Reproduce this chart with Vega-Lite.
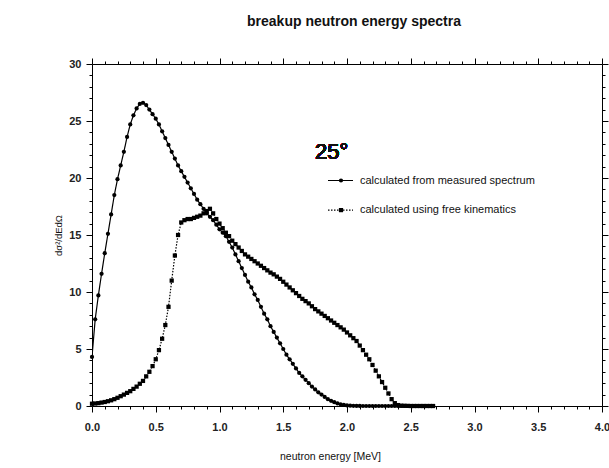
{
  "$schema": "https://vega.github.io/schema/vega-lite/v6.json",
  "width": 510,
  "height": 342,
  "autosize": {"type": "none"},
  "padding": {"left": 92, "top": 64, "right": 7, "bottom": 62},
  "background": "white",
  "config": {"view": {"stroke": null}, "font": "Liberation Sans"},
  "title": {"text": "breakup neutron energy spectra", "fontSize": 14, "fontWeight": "bold", "font": "Liberation Sans", "color": "#111111", "anchor": "middle", "dx": 7, "offset": 29},
  "datasets": {
    "spectra": [
      {"series":"measured","energy":0.000,"value":4.3},{"series":"measured","energy":0.025,"value":7.6},{"series":"measured","energy":0.050,"value":9.7},{"series":"measured","energy":0.075,"value":11.6},{"series":"measured","energy":0.100,"value":13.4},{"series":"measured","energy":0.125,"value":15.1},{"series":"measured","energy":0.150,"value":16.8},{"series":"measured","energy":0.175,"value":18.5},{"series":"measured","energy":0.200,"value":19.9},{"series":"measured","energy":0.225,"value":21.1},{"series":"measured","energy":0.250,"value":22.3},{"series":"measured","energy":0.275,"value":23.6},{"series":"measured","energy":0.300,"value":24.7},{"series":"measured","energy":0.325,"value":25.5},{"series":"measured","energy":0.350,"value":26.1},{"series":"measured","energy":0.375,"value":26.5},{"series":"measured","energy":0.400,"value":26.6},{"series":"measured","energy":0.425,"value":26.4},{"series":"measured","energy":0.450,"value":26.0},{"series":"measured","energy":0.475,"value":25.6},{"series":"measured","energy":0.500,"value":25.2},{"series":"measured","energy":0.525,"value":24.7},{"series":"measured","energy":0.550,"value":24.1},{"series":"measured","energy":0.575,"value":23.5},{"series":"measured","energy":0.600,"value":22.9},{"series":"measured","energy":0.625,"value":22.3},{"series":"measured","energy":0.650,"value":21.7},{"series":"measured","energy":0.675,"value":21.1},{"series":"measured","energy":0.700,"value":20.6},{"series":"measured","energy":0.725,"value":20.1},{"series":"measured","energy":0.750,"value":19.6},{"series":"measured","energy":0.775,"value":19.1},{"series":"measured","energy":0.800,"value":18.6},{"series":"measured","energy":0.825,"value":18.1},{"series":"measured","energy":0.850,"value":17.7},{"series":"measured","energy":0.875,"value":17.3},{"series":"measured","energy":0.900,"value":16.9},{"series":"measured","energy":0.925,"value":16.6},{"series":"measured","energy":0.950,"value":16.3},{"series":"measured","energy":0.975,"value":15.9},{"series":"measured","energy":1.000,"value":15.5},{"series":"measured","energy":1.025,"value":15.2},{"series":"measured","energy":1.050,"value":14.9},{"series":"measured","energy":1.075,"value":14.4},{"series":"measured","energy":1.100,"value":13.9},{"series":"measured","energy":1.125,"value":13.3},{"series":"measured","energy":1.150,"value":12.7},{"series":"measured","energy":1.175,"value":12.1},{"series":"measured","energy":1.200,"value":11.5},{"series":"measured","energy":1.225,"value":10.9},{"series":"measured","energy":1.250,"value":10.4},{"series":"measured","energy":1.275,"value":9.8},{"series":"measured","energy":1.300,"value":9.3},{"series":"measured","energy":1.325,"value":8.7},{"series":"measured","energy":1.350,"value":8.1},{"series":"measured","energy":1.375,"value":7.6},{"series":"measured","energy":1.400,"value":7.0},{"series":"measured","energy":1.425,"value":6.5},{"series":"measured","energy":1.450,"value":6.0},{"series":"measured","energy":1.475,"value":5.5},{"series":"measured","energy":1.500,"value":5.0},{"series":"measured","energy":1.525,"value":4.5},{"series":"measured","energy":1.550,"value":4.1},{"series":"measured","energy":1.575,"value":3.7},{"series":"measured","energy":1.600,"value":3.3},{"series":"measured","energy":1.625,"value":2.9},{"series":"measured","energy":1.650,"value":2.6},{"series":"measured","energy":1.675,"value":2.3},{"series":"measured","energy":1.700,"value":2.0},{"series":"measured","energy":1.725,"value":1.7},{"series":"measured","energy":1.750,"value":1.45},{"series":"measured","energy":1.775,"value":1.2},{"series":"measured","energy":1.800,"value":1.0},{"series":"measured","energy":1.825,"value":0.8},{"series":"measured","energy":1.850,"value":0.6},{"series":"measured","energy":1.875,"value":0.45},{"series":"measured","energy":1.900,"value":0.33},{"series":"measured","energy":1.925,"value":0.23},{"series":"measured","energy":1.950,"value":0.15},{"series":"measured","energy":1.975,"value":0.09},{"series":"measured","energy":2.000,"value":0.05},{"series":"measured","energy":2.025,"value":0.03},{"series":"measured","energy":2.050,"value":0.02},{"series":"measured","energy":2.075,"value":0.01},{"series":"measured","energy":2.100,"value":0.01},{"series":"measured","energy":2.125,"value":0.0},{"series":"measured","energy":2.150,"value":0.0},{"series":"measured","energy":2.175,"value":0.0},{"series":"measured","energy":2.200,"value":0.0},{"series":"measured","energy":2.225,"value":0.0},{"series":"measured","energy":2.250,"value":0.0},{"series":"measured","energy":2.275,"value":0.0},{"series":"measured","energy":2.300,"value":0.0},{"series":"measured","energy":2.325,"value":0.0},{"series":"measured","energy":2.350,"value":0.0},{"series":"measured","energy":2.375,"value":0.0},{"series":"measured","energy":2.400,"value":0.0},{"series":"measured","energy":2.425,"value":0.0},{"series":"measured","energy":2.450,"value":0.0},{"series":"measured","energy":2.475,"value":0.0},{"series":"measured","energy":2.500,"value":0.0},{"series":"measured","energy":2.525,"value":0.0},{"series":"measured","energy":2.550,"value":0.0},{"series":"measured","energy":2.575,"value":0.0},{"series":"measured","energy":2.600,"value":0.0},{"series":"measured","energy":2.625,"value":0.0},{"series":"measured","energy":2.650,"value":0.0},{"series":"measured","energy":2.675,"value":0.0},
      {"series":"free","energy":0.000,"value":0.2},{"series":"free","energy":0.025,"value":0.22},{"series":"free","energy":0.050,"value":0.25},{"series":"free","energy":0.075,"value":0.3},{"series":"free","energy":0.100,"value":0.35},{"series":"free","energy":0.125,"value":0.42},{"series":"free","energy":0.150,"value":0.5},{"series":"free","energy":0.175,"value":0.6},{"series":"free","energy":0.200,"value":0.72},{"series":"free","energy":0.225,"value":0.86},{"series":"free","energy":0.250,"value":1.0},{"series":"free","energy":0.275,"value":1.15},{"series":"free","energy":0.300,"value":1.3},{"series":"free","energy":0.325,"value":1.5},{"series":"free","energy":0.350,"value":1.7},{"series":"free","energy":0.375,"value":1.95},{"series":"free","energy":0.400,"value":2.2},{"series":"free","energy":0.425,"value":2.6},{"series":"free","energy":0.450,"value":3.0},{"series":"free","energy":0.475,"value":3.5},{"series":"free","energy":0.500,"value":4.1},{"series":"free","energy":0.525,"value":4.9},{"series":"free","energy":0.550,"value":5.9},{"series":"free","energy":0.575,"value":7.1},{"series":"free","energy":0.600,"value":8.7},{"series":"free","energy":0.625,"value":11.0},{"series":"free","energy":0.650,"value":13.2},{"series":"free","energy":0.675,"value":15.0},{"series":"free","energy":0.700,"value":16.1},{"series":"free","energy":0.725,"value":16.3},{"series":"free","energy":0.750,"value":16.4},{"series":"free","energy":0.775,"value":16.4},{"series":"free","energy":0.800,"value":16.5},{"series":"free","energy":0.825,"value":16.6},{"series":"free","energy":0.850,"value":16.7},{"series":"free","energy":0.875,"value":16.9},{"series":"free","energy":0.900,"value":17.1},{"series":"free","energy":0.925,"value":17.3},{"series":"free","energy":0.950,"value":16.9},{"series":"free","energy":0.975,"value":16.4},{"series":"free","energy":1.000,"value":16.0},{"series":"free","energy":1.025,"value":15.6},{"series":"free","energy":1.050,"value":15.2},{"series":"free","energy":1.075,"value":14.9},{"series":"free","energy":1.100,"value":14.5},{"series":"free","energy":1.125,"value":14.2},{"series":"free","energy":1.150,"value":13.9},{"series":"free","energy":1.175,"value":13.6},{"series":"free","energy":1.200,"value":13.3},{"series":"free","energy":1.225,"value":13.1},{"series":"free","energy":1.250,"value":12.9},{"series":"free","energy":1.275,"value":12.7},{"series":"free","energy":1.300,"value":12.5},{"series":"free","energy":1.325,"value":12.3},{"series":"free","energy":1.350,"value":12.1},{"series":"free","energy":1.375,"value":11.9},{"series":"free","energy":1.400,"value":11.7},{"series":"free","energy":1.425,"value":11.55},{"series":"free","energy":1.450,"value":11.35},{"series":"free","energy":1.475,"value":11.15},{"series":"free","energy":1.500,"value":10.9},{"series":"free","energy":1.525,"value":10.65},{"series":"free","energy":1.550,"value":10.4},{"series":"free","energy":1.575,"value":10.15},{"series":"free","energy":1.600,"value":9.9},{"series":"free","energy":1.625,"value":9.65},{"series":"free","energy":1.650,"value":9.4},{"series":"free","energy":1.675,"value":9.2},{"series":"free","energy":1.700,"value":9.0},{"series":"free","energy":1.725,"value":8.75},{"series":"free","energy":1.750,"value":8.5},{"series":"free","energy":1.775,"value":8.3},{"series":"free","energy":1.800,"value":8.1},{"series":"free","energy":1.825,"value":7.9},{"series":"free","energy":1.850,"value":7.7},{"series":"free","energy":1.875,"value":7.5},{"series":"free","energy":1.900,"value":7.3},{"series":"free","energy":1.925,"value":7.1},{"series":"free","energy":1.950,"value":6.9},{"series":"free","energy":1.975,"value":6.7},{"series":"free","energy":2.000,"value":6.45},{"series":"free","energy":2.025,"value":6.2},{"series":"free","energy":2.050,"value":5.95},{"series":"free","energy":2.075,"value":5.7},{"series":"free","energy":2.100,"value":5.3},{"series":"free","energy":2.125,"value":4.9},{"series":"free","energy":2.150,"value":4.5},{"series":"free","energy":2.175,"value":4.1},{"series":"free","energy":2.200,"value":3.6},{"series":"free","energy":2.225,"value":3.1},{"series":"free","energy":2.250,"value":2.6},{"series":"free","energy":2.275,"value":2.1},{"series":"free","energy":2.300,"value":1.6},{"series":"free","energy":2.325,"value":1.1},{"series":"free","energy":2.350,"value":0.6},{"series":"free","energy":2.375,"value":0.25},{"series":"free","energy":2.400,"value":0.08},{"series":"free","energy":2.425,"value":0.03},{"series":"free","energy":2.450,"value":0.02},{"series":"free","energy":2.475,"value":0.01},{"series":"free","energy":2.500,"value":0.0},{"series":"free","energy":2.525,"value":0.0},{"series":"free","energy":2.550,"value":0.0},{"series":"free","energy":2.575,"value":0.0},{"series":"free","energy":2.600,"value":0.0},{"series":"free","energy":2.625,"value":0.0},{"series":"free","energy":2.650,"value":0.0},{"series":"free","energy":2.675,"value":0.0}
    ]
  },
  "data": {"name": "spectra"},
  "layer": [
    {
      "mark": {"type": "line", "strokeWidth": 1.2, "clip": true, "color": "#000000"},
      "encoding": {
        "x": {"field": "energy", "type": "quantitative", "scale": {"domain": [0, 4], "nice": false, "zero": false},
          "axis": {"orient": "bottom", "values": [0,0.1,0.2,0.3,0.4,0.5,0.6,0.7,0.8,0.9,1.0,1.1,1.2,1.3,1.4,1.5,1.6,1.7,1.8,1.9,2.0,2.1,2.2,2.3,2.4,2.5,2.6,2.7,2.8,2.9,3.0,3.1,3.2,3.3,3.4,3.5,3.6,3.7,3.8,3.9,4.0],
            "labelExpr": "abs(round(datum.value*10)) % 5 == 0 ? format(datum.value, '.1f') : ''",
            "tickSize": {"condition": {"test": "abs(round(datum.value*10)) % 5 == 0", "value": 6}, "value": 3},
            "tickColor": "#000000", "domainColor": "#000000", "tickWidth": 1, "domainWidth": 1, "grid": false,
            "labelFont": "Liberation Sans", "labelFontSize": 11, "labelFontWeight": "bold", "labelColor": "#222222", "labelPadding": 9, "labelOverlap": false, "labelFlush": false, "labelBound": false,
            "title": "neutron energy [MeV]", "titleFont": "Liberation Sans", "titleFontSize": 10.5, "titleFontWeight": "normal", "titleColor": "#111111", "titleX": 238, "titleY": 50, "titleAlign": "center", "titleBaseline": "middle"}},
        "y": {"field": "value", "type": "quantitative", "scale": {"domain": [0, 30], "nice": false},
          "axis": {"orient": "left", "values": [0,1,2,3,4,5,6,7,8,9,10,11,12,13,14,15,16,17,18,19,20,21,22,23,24,25,26,27,28,29,30],
            "labelExpr": "datum.value % 5 == 0 ? datum.value : ''",
            "tickSize": {"condition": {"test": "datum.value % 5 == 0", "value": 6}, "value": 3},
            "tickColor": "#000000", "domainColor": "#000000", "tickWidth": 1, "domainWidth": 1, "grid": false,
            "labelFont": "Liberation Sans", "labelFontSize": 11, "labelFontWeight": "bold", "labelColor": "#222222", "labelPadding": 5, "labelOverlap": false, "labelFlush": false, "labelBound": false,
            "title": "dσ²/dEdΩ", "titleFont": "Liberation Sans", "titleFontSize": 9.5, "titleFontWeight": "normal", "titleColor": "#111111", "titleX": -34, "titleY": 171, "titleAngle": -90, "titleAlign": "center", "titleBaseline": "middle"}},
        "strokeDash": {"field": "series", "type": "nominal", "scale": {"domain": ["measured", "free"], "range": [[1, 0], [1.5, 1.5]]},
          "legend": {"orient": "none", "legendX": 235, "legendY": 103, "title": null, "symbolType": "stroke", "symbolSize": 625, "symbolStrokeWidth": 1.2, "symbolStrokeColor": "#000000", "labelFont": "Liberation Sans", "labelFontSize": 11, "labelColor": "#111111", "labelOffset": 6, "labelLimit": 400, "rowPadding": 10.6, "padding": 0,
            "labelExpr": "datum.label == 'measured' ? 'calculated from measured spectrum' : 'calculated using free kinematics'"}}
      }
    },
    {
      "mark": {"type": "point", "filled": true, "size": 18, "opacity": 1, "color": "#000000"},
      "encoding": {
        "x": {"field": "energy", "type": "quantitative",
          "axis": {"orient": "top", "values": [0,0.1,0.2,0.3,0.4,0.5,0.6,0.7,0.8,0.9,1.0,1.1,1.2,1.3,1.4,1.5,1.6,1.7,1.8,1.9,2.0,2.1,2.2,2.3,2.4,2.5,2.6,2.7,2.8,2.9,3.0,3.1,3.2,3.3,3.4,3.5,3.6,3.7,3.8,3.9,4.0], "labels": false, "title": null, "grid": false,
            "tickSize": {"condition": {"test": "abs(round(datum.value*10)) % 5 == 0", "value": 6}, "value": 3},
            "tickColor": "#000000", "domainColor": "#000000", "tickWidth": 1, "domainWidth": 1}},
        "y": {"field": "value", "type": "quantitative",
          "axis": {"orient": "right", "values": [0,1,2,3,4,5,6,7,8,9,10,11,12,13,14,15,16,17,18,19,20,21,22,23,24,25,26,27,28,29,30], "labels": false, "title": null, "grid": false,
            "tickSize": {"condition": {"test": "datum.value % 5 == 0", "value": 6}, "value": 3},
            "tickColor": "#000000", "domainColor": "#000000", "tickWidth": 1, "domainWidth": 1}},
        "shape": {"field": "series", "type": "nominal", "scale": {"domain": ["measured", "free", "none"], "range": ["circle", "square", "circle"]},
          "legend": {"orient": "none", "legendX": 243.5, "legendY": 111, "values": ["measured", "free"], "title": null, "symbolSize": 18, "symbolFillColor": "#000000", "symbolStrokeWidth": 0, "labels": false, "labelExpr": "''", "labelFontSize": 11, "rowPadding": 17.6, "padding": 0}}
      }
    },
    {
      "mark": {"type": "text", "text": "25°", "fontSize": 22, "font": "Liberation Sans", "color": "#111111", "align": "center", "baseline": "middle"},
      "encoding": {
        "x": {"datum": 1.88, "type": "quantitative", "axis": null},
        "y": {"datum": 22.3, "type": "quantitative", "axis": null}
      }
    }
  ],
  "resolve": {"axis": {"x": "independent", "y": "independent"}}
}
